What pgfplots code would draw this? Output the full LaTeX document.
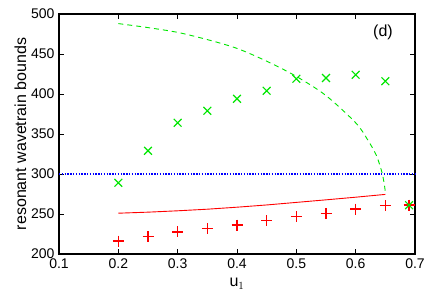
\documentclass[border=0pt]{standalone}
\usepackage{pgfplots}
\pgfplotsset{compat=1.18}
\usepackage{fontspec}
\setmainfont{Liberation Sans}
\definecolor{gg}{RGB}{0,230,0}
\definecolor{rr}{RGB}{255,0,0}
\definecolor{bb}{RGB}{0,0,255}
\begin{document}
\begin{tikzpicture}
\begin{axis}[
  scale only axis, width=356pt, height=240pt,
  xmin=0.1, xmax=0.7, ymin=200, ymax=500,
  xtick={0.1,0.2,0.3,0.4,0.5,0.6,0.7}, ytick={200,250,...,500},
  xticklabels={0.1,0.2,0.3,0.4,0.5,0.6,0.7},
  yticklabels={200,250,300,350,400,450,500},
  tick align=inside, major tick length=5pt,
  tick style={black, line width=0.8pt},
  axis line style={line width=1.3pt},
  ticklabel style={font=\fontsize{14}{16}\selectfont},
  xticklabel style={yshift=-1pt},
  yticklabel style={xshift=-1pt},
  ylabel={resonant wavetrain bounds},
  ylabel style={font=\fontsize{16}{18}\selectfont, yshift=-2pt},
  clip=false,
]
\addplot[bb, line width=2.8pt, dash pattern=on 1.3pt off 1.5pt] coordinates {(0.1,300) (0.7,300)};
\addplot[rr, line width=0.9pt] coordinates {
(0.2,251) (0.25,252.3) (0.3,254) (0.35,256) (0.4,258.5) (0.45,261.3) (0.5,264.5) (0.55,267.7) (0.6,271) (0.65,274.5)};
\addplot[gg, line width=0.9pt, dash pattern=on 5pt off 4pt, smooth] coordinates {
(0.2,488) (0.25,483) (0.3,477) (0.35,468) (0.4,457) (0.45,441) (0.5,422) (0.55,398) (0.6,364) (0.62,343) (0.635,323) (0.645,300) (0.65,278)};
\addplot[only marks, rr, mark=+, mark size=5.5pt, mark options={rr, line width=1.5pt}] coordinates {
(0.2,216) (0.25,221.7) (0.3,227.5) (0.35,231.7) (0.4,236) (0.45,241.7) (0.5,246.7) (0.55,250.8) (0.6,256) (0.65,260.4) (0.69,261)};
\addplot[only marks, gg, mark=x, mark size=5.5pt, mark options={gg, line width=1.2pt}] coordinates {
(0.2,289) (0.25,329) (0.3,364) (0.35,379) (0.4,394) (0.45,404) (0.5,419) (0.55,420) (0.6,424) (0.65,416) (0.69,261)};
\node[font=\fontsize{16}{18}\selectfont] at (axis cs:0.646,477.5) {(d)};
\node[font=\fontsize{16}{18}\selectfont, anchor=north] at (axis description cs:0.5,0) [yshift=-21pt] {u$_1$};
\end{axis}
\path (current axis.south west) ++(-59pt,-52pt) coordinate (A);
\path (current axis.north east) ++(22pt,14pt) coordinate (B);
\useasboundingbox (A) rectangle (B);
\end{tikzpicture}
\end{document}
